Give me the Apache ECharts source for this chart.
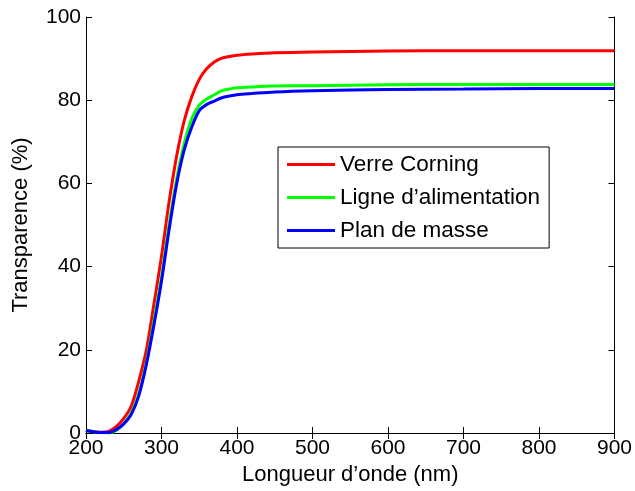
<!DOCTYPE html>
<html>
<head>
<meta charset="utf-8">
<script src="https://cdn.jsdelivr.net/npm/echarts@6/dist/echarts.min.js"></script>
<style>
  html, body { margin: 0; padding: 0; background: #fff; }
  #chart { width: 635px; height: 491px; }
</style>
</head>
<body>
<div id="chart"></div>
<script>
// wavelengths (nm) and transparence (%)
var wavelength = [200, 210, 220, 230, 240, 250, 260, 270, 280, 290, 300, 310, 320, 330, 340,
  350, 360, 370, 380, 390, 400, 420, 450, 500, 600, 700, 800, 900];
var verreCorning = [0.6, 0.3, 0.2, 0.4, 1.5, 3.5, 6.5, 12.5, 20, 31, 42.5, 55.5, 66.5, 75, 80.8,
  85, 87.6, 89.2, 90.1, 90.5, 90.8, 91.1, 91.4, 91.6, 91.8, 91.9, 91.9, 91.9];
var ligneAlim = [0.6, 0.3, 0.1, 0.0, 0.6, 2.2, 4.8, 9.5, 17, 27, 37.5, 50, 61, 69.5, 75.5,
  78.8, 80.3, 81.3, 82.3, 82.7, 83, 83.2, 83.4, 83.5, 83.7, 83.8, 83.8, 83.8];
var planMasse = [0.6, 0.3, 0.1, 0.1, 0.8, 2.2, 4.5, 9, 16.5, 26, 36.5, 48.8, 59.8, 68, 73.5,
  77.5, 79, 79.8, 80.6, 81, 81.3, 81.6, 82, 82.3, 82.6, 82.7, 82.8, 82.8];

var seriesNames = ["Verre Corning", "Ligne d’alimentation", "Plan de masse"];
var seriesColors = ["#ff0000", "#00ff00", "#0000ff"];
var seriesValues = [verreCorning, ligneAlim, planMasse];

function pairs(values) {
  return wavelength.map(function (w, i) { return [w, values[i]]; });
}

var chart = echarts.init(document.getElementById("chart"));

var font = "Liberation Sans, Arial, sans-serif";
var boxAxis = {
  axisLine: { show: true, lineStyle: { color: "#000", width: 1 } },
  axisTick: { show: true, inside: true, length: 6, lineStyle: { color: "#000" } },
  splitLine: { show: false }
};

var option = {
  animation: false,
  backgroundColor: "#fff",
  grid: { left: 86, right: 20, top: 17, bottom: 57 },
  xAxis: [
    Object.assign({
      type: "value", min: 200, max: 900, interval: 100,
      name: "Longueur d’onde (nm)", nameLocation: "middle", nameGap: 31,
      nameTextStyle: { color: "#000", fontSize: 22, fontFamily: font },
      axisLabel: { color: "#000", fontSize: 21, fontFamily: font, margin: 5 }
    }, boxAxis),
    Object.assign({
      type: "value", min: 200, max: 900, interval: 100, position: "top",
      axisLabel: { show: false }
    }, boxAxis)
  ],
  yAxis: [
    Object.assign({
      type: "value", min: 0, max: 100, interval: 20,
      name: "Transparence (%)", nameLocation: "middle", nameGap: 54,
      nameTextStyle: { color: "#000", fontSize: 22, fontFamily: font },
      axisLabel: { color: "#000", fontSize: 21, fontFamily: font, margin: 5 }
    }, boxAxis),
    Object.assign({
      type: "value", min: 0, max: 100, interval: 20, position: "right",
      axisLabel: { show: false }
    }, boxAxis)
  ],
  legend: {
    left: 278, top: 147,
    orient: "vertical",
    backgroundColor: "#fff",
    borderColor: "#000", borderWidth: 1,
    borderRadius: 0,
    padding: [6, 9, 6, 9],
    icon: "rect",
    itemWidth: 48, itemHeight: 3, itemGap: 10,
    textStyle: { color: "#000", fontSize: 22.5, lineHeight: 22, fontFamily: font },
    data: seriesNames
  },
  series: seriesValues.map(function (vals, i) {
    return {
      type: "line",
      name: seriesNames[i],
      data: pairs(vals),
      smooth: 0.3,
      showSymbol: false,
      symbol: "none",
      color: seriesColors[i],
      lineStyle: { color: seriesColors[i], width: 3 },
      z: 2 + i
    };
  })
};

chart.setOption(option);
</script>
</body>
</html>
